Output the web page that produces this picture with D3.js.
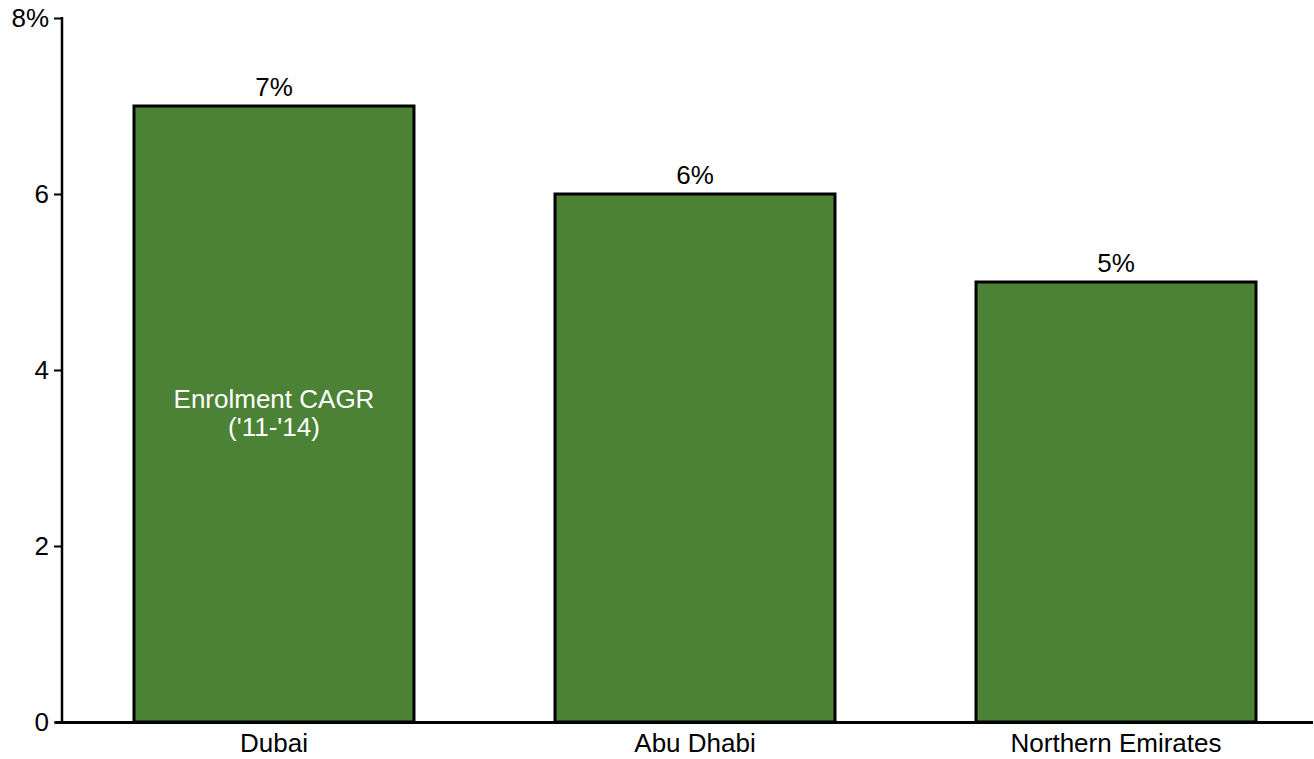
<!DOCTYPE html>
<html>
<head>
<meta charset="utf-8">
<script src="https://cdnjs.cloudflare.com/ajax/libs/d3/7.8.5/d3.min.js"></script>
<style>
  html, body { margin: 0; padding: 0; background: #fff; }
  svg text { font-family: "Liberation Sans", Arial, sans-serif; }
</style>
</head>
<body>
<div id="chart"></div>
<script>
// chart data
var categories = ['Dubai', 'Abu Dhabi', 'Northern Emirates'];
var cagrValues = [7, 6, 5];
var yTicks = [0, 2, 4, 6, 8];
var insideLabel = ['Enrolment CAGR', "('11-'14)"];

var width = 1314, height = 759;
var barColor = '#4b8236';
var fontSize = '26px';

var svg = d3.select('#chart').append('svg')
    .attr('width', width)
    .attr('height', height);

var x = d3.scaleBand()
    .domain(categories)
    .range([62, 1328])
    .paddingInner(0.335)
    .paddingOuter(0.171);

var y = d3.scaleLinear()
    .domain([0, 8])
    .range([722, 18]);

// bars
svg.selectAll('rect.bar')
    .data(categories)
    .enter().append('rect')
    .attr('class', 'bar')
    .attr('x', function(d) { return x(d); })
    .attr('width', x.bandwidth())
    .attr('y', function(d, i) { return y(cagrValues[i]); })
    .attr('height', function(d, i) { return y(0) - y(cagrValues[i]); })
    .style('fill', barColor)
    .style('stroke', '#000')
    .style('stroke-width', 3);

// value labels
svg.selectAll('text.value')
    .data(categories)
    .enter().append('text')
    .attr('class', 'value')
    .attr('x', function(d) { return x(d) + x.bandwidth() / 2; })
    .attr('y', function(d, i) { return y(cagrValues[i]) - 10; })
    .attr('text-anchor', 'middle')
    .style('font-size', fontSize)
    .style('fill', '#000')
    .text(function(d, i) { return cagrValues[i] + '%'; });

// label inside first bar
svg.append('text')
    .attr('x', x(categories[0]) + x.bandwidth() / 2)
    .attr('y', y(4) + 38)
    .attr('text-anchor', 'middle')
    .style('font-size', fontSize)
    .style('fill', '#fff')
    .selectAll('tspan')
    .data(insideLabel)
    .enter().append('tspan')
    .attr('x', x(categories[0]) + x.bandwidth() / 2)
    .attr('dy', function(d, i) { return i === 0 ? 0 : 28; })
    .text(function(d) { return d; });

// y axis
var yAxis = svg.append('g')
    .attr('transform', 'translate(62,0)')
    .call(d3.axisLeft(y)
        .tickValues(yTicks)
        .tickSize(8)
        .tickPadding(5)
        .tickFormat(function(d) { return d === 8 ? d + '%' : d; }));
yAxis.select('.domain').remove();
yAxis.selectAll('.tick line').style('stroke', '#000').style('stroke-width', 2);
yAxis.selectAll('.tick text')
    .style('font-size', fontSize)
    .style('font-family', '"Liberation Sans", Arial, sans-serif')
    .style('fill', '#000');

svg.append('line')
    .attr('x1', 62).attr('x2', 62)
    .attr('y1', y(8) - 1).attr('y2', y(0) + 1)
    .style('stroke', '#000').style('stroke-width', 2.5);

// x axis
var xAxis = svg.append('g')
    .attr('transform', 'translate(0,' + y(0) + ')')
    .call(d3.axisBottom(x).tickSize(0).tickPadding(11.5));
xAxis.select('.domain').remove();
xAxis.selectAll('.tick text')
    .style('font-size', fontSize)
    .style('font-family', '"Liberation Sans", Arial, sans-serif')
    .style('fill', '#000');

svg.append('line')
    .attr('x1', 55).attr('x2', 1313)
    .attr('y1', y(0) + 0.5).attr('y2', y(0) + 0.5)
    .style('stroke', '#000').style('stroke-width', 3);
</script>
</body>
</html>
